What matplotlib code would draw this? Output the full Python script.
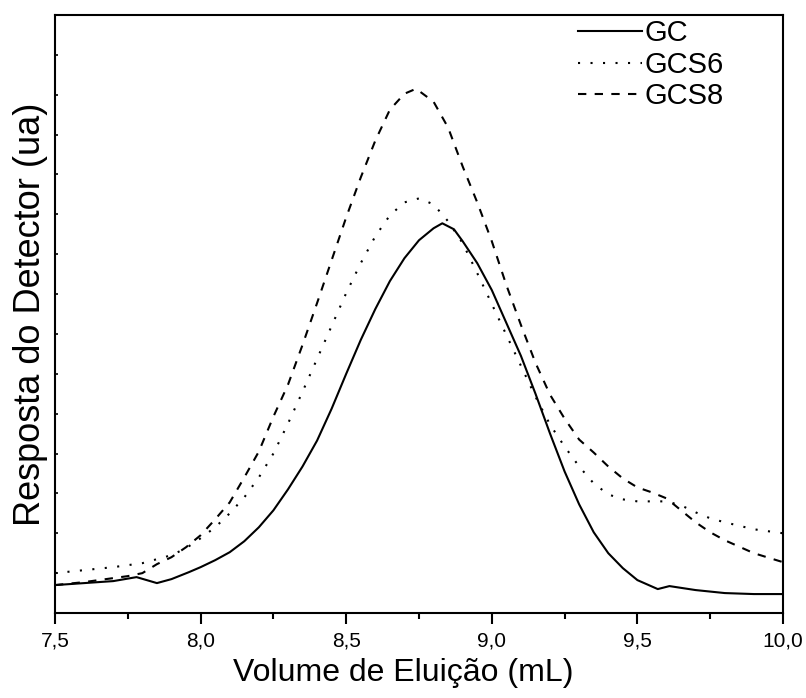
# GPC curves - detector response vs elution volume
import matplotlib
matplotlib.use("Agg")
import matplotlib.pyplot as plt
from matplotlib.ticker import MultipleLocator, FuncFormatter

plt.rcParams['font.family'] = ['Liberation Sans', 'DejaVu Sans']

# data (arbitrary detector units)
vol_gc = [7.5, 7.6, 7.7, 7.78, 7.85, 7.9, 7.96, 8.0, 8.05, 8.1, 8.15, 8.2, 8.25,
          8.3, 8.35, 8.4, 8.45, 8.5, 8.55, 8.6, 8.65, 8.7, 8.75, 8.8, 8.83, 8.87,
          8.9, 8.95, 9.0, 9.05, 9.1, 9.15, 9.2, 9.25, 9.3, 9.35, 9.4, 9.45, 9.5,
          9.57, 9.61, 9.7, 9.8, 9.9, 10.0]
resp_gc = [28, 30, 32, 36, 30, 34, 41, 46, 53, 61, 72, 86, 103,
           124, 147, 173, 205, 240, 274, 305, 333, 356, 374, 386, 391, 385,
           373, 351, 324, 291, 258, 220, 180, 142, 109, 81, 60, 45, 33,
           24, 27, 23, 20, 19, 19]

vol_gcs6 = [7.5, 7.6, 7.7, 7.8, 7.9, 7.95, 8.0, 8.05, 8.1, 8.15, 8.2, 8.25, 8.3,
            8.35, 8.4, 8.45, 8.5, 8.55, 8.6, 8.65, 8.7, 8.75, 8.8, 8.85, 8.9,
            8.95, 9.0, 9.05, 9.1, 9.15, 9.2, 9.25, 9.3, 9.35, 9.4, 9.45, 9.5,
            9.55, 9.6, 9.65, 9.7, 9.75, 9.8, 9.9, 10.0]
resp_gcs6 = [40, 43, 46, 50, 58, 65, 75, 86, 100, 116, 136, 160, 190,
             222, 255, 288, 321, 351, 378, 399, 412, 416, 410, 393, 371,
             341, 310, 279, 248, 217, 189, 167, 147, 130, 119, 114, 112,
             112, 112, 108, 101, 95, 91, 84, 80]

vol_gcs8 = [7.5, 7.6, 7.7, 7.75, 7.8, 7.85, 7.9, 7.95, 8.0, 8.05, 8.1, 8.15, 8.2,
            8.25, 8.3, 8.35, 8.4, 8.45, 8.5, 8.55, 8.6, 8.65, 8.7, 8.74, 8.8,
            8.85, 8.9, 8.95, 9.0, 9.05, 9.1, 9.15, 9.2, 9.25, 9.3, 9.35, 9.4,
            9.45, 9.5, 9.55, 9.6, 9.65, 9.7, 9.75, 9.8, 9.9, 10.0]
resp_gcs8 = [28, 31, 35, 37, 40, 49, 56, 66, 78, 94, 111, 136, 162,
             197, 229, 269, 311, 354, 397, 437, 474, 505, 521, 526, 513,
             487, 448, 412, 373, 329, 289, 251, 219, 195, 174, 161, 147,
             135, 126, 121, 115, 103, 91, 81, 73, 60, 51]

fig = plt.figure(figsize=(8.06, 6.98), dpi=100)
ax = fig.add_axes([55/806, 85/698, 728/806, 598/698])

lw = 1.5
ax.plot(vol_gc, resp_gc, color='black', lw=lw, linestyle='-', label='GC')
ax.plot(vol_gcs6, resp_gcs6, color='black', lw=lw, linestyle=(0, (1, 5)), label='GCS6')
ax.plot(vol_gcs8, resp_gcs8, color='black', lw=lw, linestyle=(0, (4, 4)), label='GCS8')

ax.set_xlim(7.5, 10.0)
ax.set_ylim(0, 600)

ax.xaxis.set_major_locator(MultipleLocator(0.5))
ax.xaxis.set_minor_locator(MultipleLocator(0.25))
ax.xaxis.set_major_formatter(FuncFormatter(lambda v, p: f"{v:.1f}".replace('.', ',')))
ax.tick_params(axis='x', which='major', direction='out', length=8, width=1.5,
               labelsize=15, pad=5)
ax.tick_params(axis='x', which='minor', direction='out', length=4, width=1.5)

ax.yaxis.set_major_locator(MultipleLocator(40))
ax.tick_params(axis='y', which='major', direction='in', length=2, width=1.2,
               labelleft=False)

for sp in ax.spines.values():
    sp.set_linewidth(1.5)

ax.set_xlabel("Volume de Eluição (mL)", fontsize=23)
ax.xaxis.set_label_coords(0.478, -0.075)
ax.set_ylabel("Resposta do Detector (ua)", fontsize=26, labelpad=5)

ax.legend(loc='upper left', bbox_to_anchor=(0.712, 1.0), frameon=False,
          fontsize=21, handlelength=2.2, handletextpad=0.1, labelspacing=0.12,
          borderpad=0.15, borderaxespad=0)

fig.savefig("out.png", dpi=100)
